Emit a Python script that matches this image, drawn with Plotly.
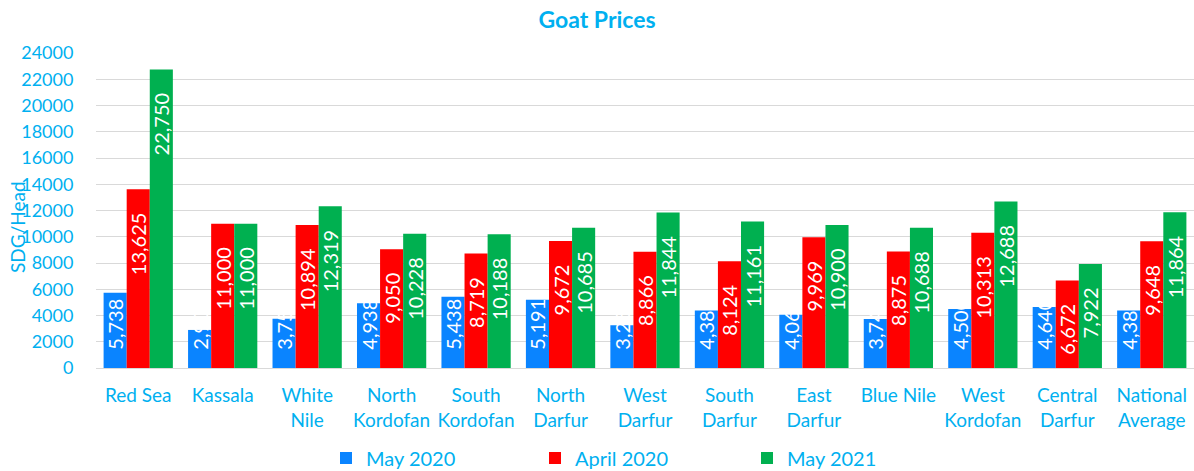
import plotly.graph_objects as go

categories = ["Red Sea", "Kassala", "White<br>Nile", "North<br>Kordofan", "South<br>Kordofan",
              "North<br>Darfur", "West<br>Darfur", "South<br>Darfur", "East<br>Darfur", "Blue Nile",
              "West<br>Kordofan", "Central<br>Darfur", "National<br>Average"]
may_2020 = [5738, 2900, 3750, 4938, 5438, 5191, 3250, 4380, 4060, 3740, 4500, 4640, 4380]
april_2020 = [13625, 11000, 10894, 9050, 8719, 9672, 8866, 8124, 9969, 8875, 10313, 6672, 9648]
may_2021 = [22750, 11000, 12319, 10228, 10188, 10685, 11844, 11161, 10900, 10688, 12688, 7922, 11864]
y_ticks = list(range(0, 24001, 2000))

FONT = "Lato"
LBLUE = "#00B0F0"

W, H = 1194, 471
ML, MT, MB, MR = 96, 53, 103, 0
PW = W - ML - MR
PH = H - MT - MB

series = [("May 2020", may_2020, "#0A84FF", "start", "legend", 326),
          ("April 2020", april_2020, "#FF0000", "end", "legend2", 535),
          ("May 2021", may_2021, "#00B050", "end", "legend3", 747)]

fig = go.Figure()
legends = {}
for name, vals, col, anchor, lg, lx in series:
    if anchor == "start":
        txt = ["\u00a0" * 3 + f"{v:,}" for v in vals]
    else:
        txt = [f"{v:,}" + "\u00a0" * 4 for v in vals]
    fig.add_trace(go.Bar(
        x=categories, y=vals, name=name, marker=dict(color=col, line=dict(width=0)),
        text=txt, textposition="inside", textangle=-90, insidetextanchor=anchor,
        textfont=dict(color="white", size=20, family=FONT), cliponaxis=False,
        legend=lg, showlegend=True,
    ))
    legends[lg] = dict(orientation="h", x=(lx - ML) / PW, xanchor="left",
                       y=(MT + PH - 458) / PH, yanchor="middle",
                       font=dict(size=20, color=LBLUE, family=FONT),
                       bgcolor="rgba(0,0,0,0)", visible=True)

fig.update_layout(
    width=W, height=H,
    margin=dict(l=ML, r=MR, t=MT, b=MB, autoexpand=False),
    paper_bgcolor="white", plot_bgcolor="white",
    showlegend=True,
    barmode="group", bargap=0.18, bargroupgap=0,
    uniformtext=dict(minsize=20, mode="show"),
    title=dict(text="<b>Goat Prices</b>", x=0.5, xanchor="center", y=1 - 20 / H, yanchor="middle",
               font=dict(family=FONT, size=23, color=LBLUE)),
    font=dict(family=FONT, color=LBLUE),
    xaxis=dict(tickfont=dict(size=19, color=LBLUE, family=FONT), showgrid=False,
               showline=False, ticks="outside", ticklen=10, tickcolor="rgba(0,0,0,0)"),
    yaxis=dict(range=[0, 24000], tickvals=y_ticks, tickformat="d",
               tickfont=dict(size=18, color=LBLUE, family=FONT),
               showgrid=True, gridcolor="#D9D9D9", gridwidth=1.3, zeroline=True,
               zerolinecolor="#D9D9D9", zerolinewidth=1.3,
               ticks="outside", ticklen=18, tickcolor="rgba(0,0,0,0)"),
    annotations=[dict(text="SDG/Head", xref="paper", yref="paper", x=(17 - ML) / PW,
                      y=(MT + PH - 227) / PH,
                      xanchor="center", yanchor="middle",
                      textangle=-90, showarrow=False,
                      font=dict(size=19, color=LBLUE, family=FONT))],
    **legends,
)

fig.write_html("out.html", config={"displayModeBar": False},
               post_script="document.body.style.margin='0';document.body.style.overflow='hidden';")
